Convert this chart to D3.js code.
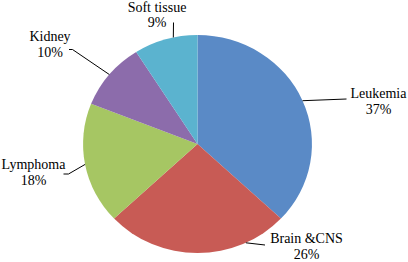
<!DOCTYPE html>
<html>
<head>
<meta charset="utf-8">
<script src="https://cdn.jsdelivr.net/npm/d3@7"></script>
<style>
  html, body { margin: 0; padding: 0; background: #ffffff; }
  text { font-family: "Liberation Serif", "Times New Roman", serif; font-size: 14px; fill: #000000; }
</style>
</head>
<body>
<div id="chart"></div>
<script>
const categories = ['Leukemia', 'Brain &CNS', 'Lymphoma', 'Kidney', 'Soft tissue'];
const values = [37, 26, 18, 10, 9];
const percentLabels = ['37%', '26%', '18%', '10%', '9%'];

const colors = ['#5A8AC6', '#C85B55', '#A6C663', '#8C6CAB', '#5BB3CF'];

const width = 408;
const height = 262;
const cx = 197.5;
const cy = 144;
const radius = 109;
const stretch = 1.05; // the pie is a touch wider than tall

// label placement, relative to pie centre (Excel "best fit" look)
const labelLayout = {
  'Leukemia':    { nudge: 0,   text: [181, -46],  leader: [[149, -45]] },
  'Brain &CNS':  { nudge: -25, text: [109, 99],   leader: [[67.5, 101]] },
  'Lymphoma':    { nudge: 0,   text: [-164, 25],  leader: [[-129, 30], [-134, 30]] },
  'Kidney':      { nudge: 0,   text: [-147.5, -103], leader: [[-125, -94.5], [-128.5, -94.5]] },
  'Soft tissue': { nudge: 4,   text: [-40.5, -132.5], leader: [[-24, -121.5]] }
};

const svg = d3.select('#chart')
  .append('svg')
  .attr('width', width)
  .attr('height', height);

const pie = d3.pie()
  .sort(null)
  .value(d => d.value);

const arcs = pie(categories.map((c, i) => ({ name: c, value: values[i], pct: percentLabels[i], color: colors[i] })));

const arc = d3.arc()
  .innerRadius(0)
  .outerRadius(radius);

svg.append('g')
  .attr('transform', `translate(${cx},${cy}) scale(${stretch},1)`)
  .selectAll('path')
  .data(arcs)
  .enter()
  .append('path')
  .attr('d', arc)
  .attr('fill', d => d.data.color);

const edgePoint = (d) => {
  let a = (d.startAngle + d.endAngle) / 2 + labelLayout[d.data.name].nudge * Math.PI / 180;
  return [radius * stretch * Math.sin(a), -radius * Math.cos(a)];
};

const labels = svg.append('g')
  .attr('transform', `translate(${cx},${cy})`);

labels.selectAll('path')
  .data(arcs)
  .enter()
  .append('path')
  .attr('d', d => d3.line()([edgePoint(d), ...labelLayout[d.data.name].leader]))
  .attr('fill', 'none')
  .attr('stroke', '#000000')
  .attr('stroke-width', 1);

const txt = labels.selectAll('text')
  .data(arcs)
  .enter()
  .append('text')
  .attr('text-anchor', 'middle')
  .attr('x', d => labelLayout[d.data.name].text[0])
  .attr('y', d => labelLayout[d.data.name].text[1]);

txt.append('tspan')
  .attr('x', d => labelLayout[d.data.name].text[0])
  .text(d => d.data.name);

txt.append('tspan')
  .attr('x', d => labelLayout[d.data.name].text[0])
  .attr('dy', 15.8)
  .text(d => d.data.pct);
</script>
</body>
</html>
